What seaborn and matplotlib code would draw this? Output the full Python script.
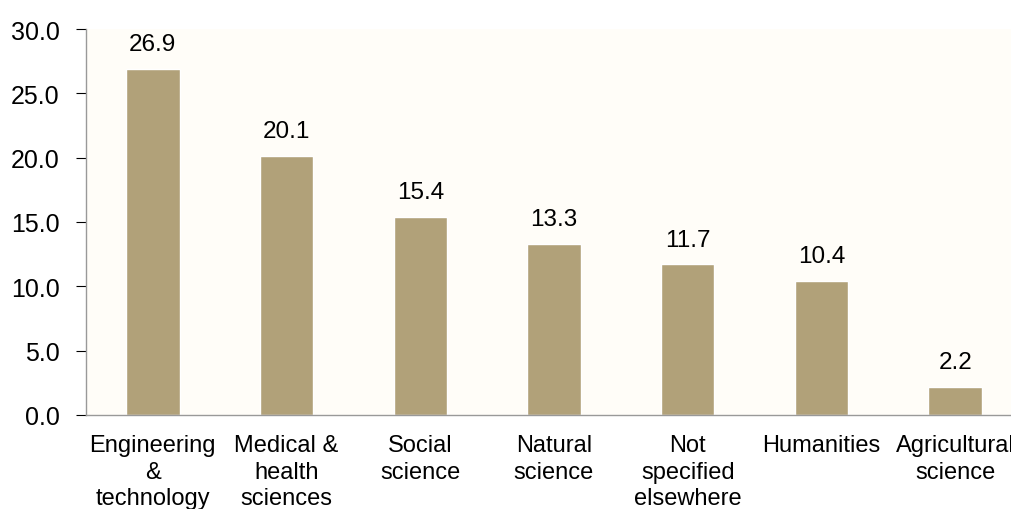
import numpy as np
import pandas as pd
import matplotlib
matplotlib.use('Agg')
import matplotlib.pyplot as plt
import seaborn as sns

categories = ['Engineering\n&\ntechnology', 'Medical &\nhealth\nsciences', 'Social\nscience',
              'Natural\nscience', 'Not\nspecified\nelsewhere', 'Humanities', 'Agricultural\nscience']
values = [26.9, 20.1, 15.4, 13.3, 11.7, 10.4, 2.2]

df = pd.DataFrame({'field': categories, 'share': values})

sns.set_style('white')
plt.rcParams['font.family'] = ['Liberation Sans', 'DejaVu Sans']
plt.rcParams['font.size'] = 17.5

fig = plt.figure(figsize=(10.12, 5.1), dpi=100)
ax = fig.add_axes([86 / 1012, 1 - 416 / 510, 936 / 1012, 386 / 510])
ax.set_facecolor('#FFFDF8')

sns.barplot(data=df, x='field', y='share', color='#B1A179', width=0.4, saturation=1, ax=ax)

for i, v in enumerate(values):
    ax.annotate(f'{v:.1f}', (i, v), xytext=(0, 10), textcoords='offset points',
                ha='center', va='bottom', fontsize=17.5, color='black')

ax.set_xlim(-0.5, len(categories) - 0.5)
ax.set_ylim(0, 30)
ax.set_yticks(np.arange(0, 30.1, 5))
ax.set_yticklabels([f'{t:.1f}' for t in np.arange(0, 30.1, 5)], fontsize=18)
ax.set_xlabel('')
ax.set_ylabel('')
for lbl in ax.get_xticklabels():
    lbl.set_fontsize(17)
    lbl.set_linespacing(1.25)

# ticks sit between the categories
ax.set_xticks(np.arange(-0.5, len(categories), 1), minor=True)
ax.tick_params(axis='x', which='major', length=0, pad=14)
ax.tick_params(axis='x', which='minor', length=7, color='#999999', direction='out')
ax.tick_params(axis='y', length=7, color='#999999', direction='out', pad=12, left=True)
ax.tick_params(colors='black')

for s in ['top', 'right']:
    ax.spines[s].set_visible(False)
for s in ['left', 'bottom']:
    ax.spines[s].set_color('#999999')
    ax.spines[s].set_linewidth(1)

plt.savefig('out.png', dpi=100)
